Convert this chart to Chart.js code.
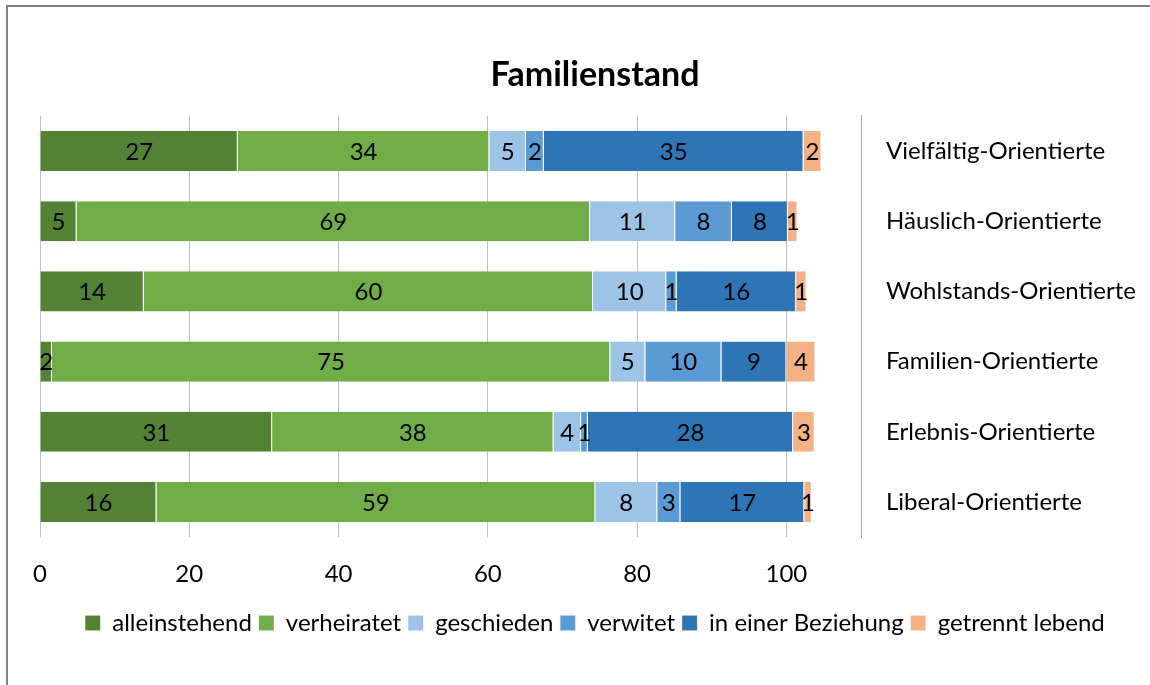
<!DOCTYPE html>
<html>
<head>
<meta charset="utf-8">
<script src="https://cdn.jsdelivr.net/npm/chart.js@4"></script>
<style>
  body { margin: 0; background: #fff; }
  #wrap { position: relative; width: 1150px; height: 685px; }
  #frame { position: absolute; left: 6px; top: 5px; width: 1200px; height: 700px;
           border-top: 2px solid #808080; border-left: 2px solid #808080; }
  canvas { position: absolute; left: 0; top: 0; }
</style>
</head>
<body>
<div id="wrap">
  <div id="frame"></div>
  <canvas id="familyChart" width="1150" height="685"></canvas>
</div>
<script>
// categories (top to bottom)
const groups = ["Vielfältig-Orientierte", "Häuslich-Orientierte", "Wohlstands-Orientierte",
                "Familien-Orientierte", "Erlebnis-Orientierte", "Liberal-Orientierte"];

// percentages per status
const alleinstehend = [26.5, 4.9, 13.9, 1.6, 31.1, 15.6];
const verheiratet   = [33.7, 68.8, 60.2, 74.8, 37.7, 58.8];
const geschieden    = [4.9, 11.4, 9.8, 4.7, 3.7, 8.3];
const verwitet      = [2.4, 7.6, 1.4, 10.2, 0.9, 3.1];
const beziehung     = [34.8, 7.5, 16.0, 8.7, 27.5, 16.6];
const getrennt      = [2.4, 1.3, 1.4, 3.9, 2.9, 1.0];

const xTicks = [0, 20, 40, 60, 80, 100];

const font = "Lato";

// draws the rounded value in the middle of each segment
const segmentLabels = {
  id: 'segmentLabels',
  afterDatasetsDraw(chart) {
    let ctx = chart.ctx;
    ctx.save();
    ctx.font = '24px ' + font;
    ctx.fillStyle = '#000';
    ctx.textAlign = 'center';
    ctx.textBaseline = 'middle';
    chart.data.datasets.forEach(function(ds, i) {
      chart.getDatasetMeta(i).data.forEach(function(bar, j) {
        let mid = (bar.x + bar.base) / 2;
        ctx.fillText(Math.round(ds.data[j]), mid, bar.y + 1);
      });
    });
    ctx.restore();
  }
};

// pull the legend row a little closer to the tick labels
const legendNudge = {
  id: 'legendNudge',
  afterLayout(chart) {
    chart.legend.top -= 8;
    chart.legend.bottom -= 8;
  }
};

function set(label, data, color) {
  return {
    label: label,
    data: data,
    backgroundColor: color,
    borderColor: 'rgba(255,255,255,0.45)',
    borderWidth: { right: 1 },
    borderSkipped: false,
    barPercentage: 0.57,
    categoryPercentage: 1
  };
}

let ctx = document.getElementById('familyChart');
let familyChart = new Chart(ctx, {
  type: 'bar',
  data: {
    labels: groups,
    datasets: [
      set('alleinstehend', alleinstehend, '#548235'),
      set('verheiratet', verheiratet, '#70AD47'),
      set('geschieden', geschieden, '#9DC3E6'),
      set('verwitet', verwitet, '#5B9BD5'),
      set('in einer Beziehung', beziehung, '#2E75B6'),
      set('getrennt lebend', getrennt, '#F4B183')
    ]
  },
  plugins: [segmentLabels, legendNudge],
  options: {
    indexAxis: 'y',
    responsive: false,
    animation: false,
    layout: { padding: { left: 40, right: 0, top: 55, bottom: 32 } },
    scales: {
      x: {
        stacked: true,
        min: 0,
        max: 110,
        grid: { color: '#BFBFBF', drawTicks: false, lineWidth: 1 },
        border: { display: false },
        afterBuildTicks: function(scale) {
          scale.ticks = xTicks.map(v => ({ value: v })).concat([{ value: 110 }]);
        },
        ticks: {
          padding: 23,
          color: '#000',
          font: { family: font, size: 24 },
          callback: function(v) { return v > 100 ? '' : v; }
        }
      },
      y: {
        stacked: true,
        position: 'right',
        grid: { display: false },
        border: { display: true, color: '#A6A6A6', width: 1 },
        afterFit: function(scale) { scale.width = 289; },
        ticks: {
          padding: 17,
          color: '#000',
          font: { family: font, size: 24 }
        }
      }
    },
    plugins: {
      title: {
        display: true,
        text: 'Familienstand',
        color: '#000',
        font: { family: font, size: 34, weight: 'bold' },
        padding: { top: 0, bottom: 20 }
      },
      legend: {
        position: 'bottom',
        labels: {
          color: '#000',
          font: { family: font, size: 24 },
          boxWidth: 15,
          boxHeight: 15,
          padding: 7
        }
      },
      tooltip: { enabled: false }
    }
  }
});
</script>
</body>
</html>
